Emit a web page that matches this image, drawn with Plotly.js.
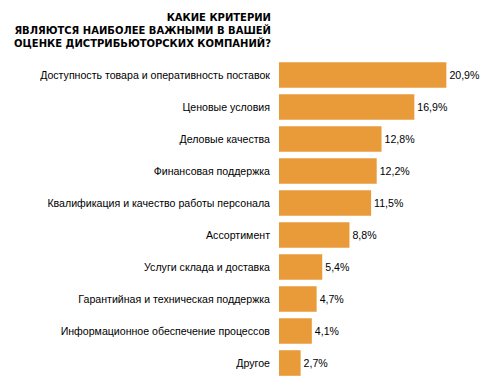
<!DOCTYPE html>
<html><head><meta charset="utf-8">
<script src="https://cdn.plot.ly/plotly-3.0.1.min.js"></script>
<style>body{margin:0;background:#fff}#chart{width:500px;height:388px}</style>
</head><body><div id="chart"></div>
<script>
var categories = [
  "Доступность товара и оперативность поставок",
  "Ценовые условия",
  "Деловые качества",
  "Финансовая поддержка",
  "Квалификация и качество работы персонала",
  "Ассортимент",
  "Услуги склада и доставка",
  "Гарантийная и техническая поддержка",
  "Информационное обеспечение процессов",
  "Другое"
];
var values = [20.9, 16.9, 12.8, 12.2, 11.5, 8.8, 5.4, 4.7, 4.1, 2.7];
var valueLabels = ["20,9%", "16,9%", "12,8%", "12,2%", "11,5%", "8,8%", "5,4%", "4,7%", "4,1%", "2,7%"];
var titleText = "КАКИЕ КРИТЕРИИ<br>ЯВЛЯЮТСЯ НАИБОЛЕЕ ВАЖНЫМИ В ВАШЕЙ<br>ОЦЕНКЕ ДИСТРИБЬЮТОРСКИХ КОМПАНИЙ?";

var trace = {
  type: 'bar',
  orientation: 'h',
  y: categories,
  x: values,
  text: valueLabels,
  textposition: 'outside',
  cliponaxis: false,
  textfont: {family: 'Liberation Sans', size: 10.6, color: '#000'},
  marker: {color: '#E99B3A'},
  width: 0.8,
  hoverinfo: 'none'
};

var layout = {
  width: 500, height: 388,
  margin: {l: 279, r: 20, t: 59, b: 9},
  paper_bgcolor: '#fff', plot_bgcolor: '#fff',
  showlegend: false,
  title: {
    text: titleText,
    font: {family: 'DejaVu Sans', size: 10, color: '#000', weight: 'bold'},
    x: 0.542, xanchor: 'right', xref: 'container',
    y: 1 - 21/388, yanchor: 'top', yref: 'container',
    align: 'right'
  },
  xaxis: {range: [0, 25.1], visible: false, fixedrange: true},
  yaxis: {
    autorange: 'reversed',
    showgrid: false, zeroline: false, showline: false,
    ticks: '', ticklabelstandoff: 8,
    tickfont: {family: 'Liberation Sans', size: 10.6, color: '#000'},
    fixedrange: true
  }
};

Plotly.newPlot('chart', [trace], layout, {displayModeBar: false, staticPlot: true});
</script>
</body></html>
